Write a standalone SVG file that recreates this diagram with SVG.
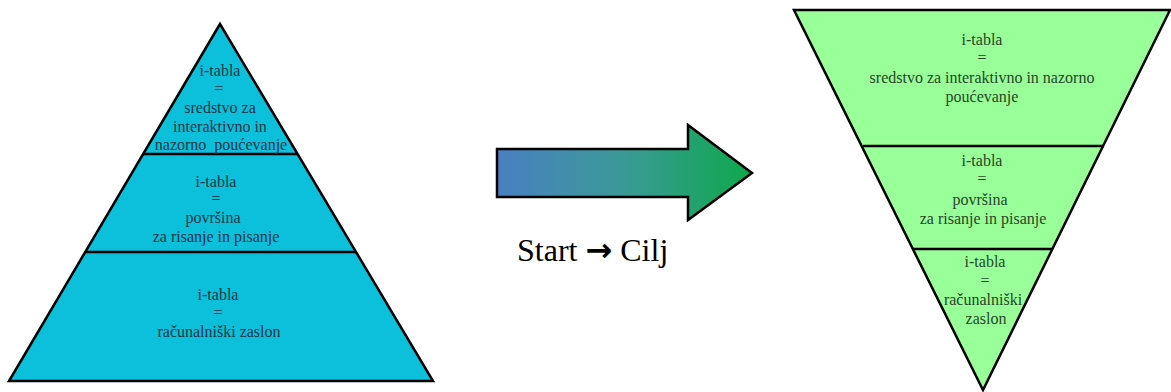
<svg xmlns="http://www.w3.org/2000/svg" width="1171" height="392" viewBox="0 0 1171 392">
<style>
.shape{stroke:#000;stroke-width:2.5;stroke-linejoin:miter}
.cyan{fill:#0cc0dc}
.green{fill:#99ff99}
.div{stroke:#000;stroke-width:2.5}
.t{font-family:"Liberation Serif","Times New Roman",serif;font-size:16px;text-anchor:middle}
.tc{fill:#1a3646}
.tg{fill:#264628}
.lbl{font-family:"Liberation Serif","Times New Roman",serif;font-size:32px;fill:#000}
.arr{font-family:"DejaVu Sans",sans-serif;font-weight:bold;font-size:32px}
</style>
<defs>
<linearGradient id="ag" x1="0" y1="0" x2="1" y2="0">
<stop offset="0" stop-color="#4a7fc2"/>
<stop offset="0.5" stop-color="#3a9a96"/>
<stop offset="1" stop-color="#0ea84c"/>
</linearGradient>
</defs>
<g id="pyramid">
<polygon class="shape cyan" points="220,24 9,381 433,381"/>
<line class="div" x1="143" y1="154" x2="297" y2="154"/>
<line class="div" x1="85" y1="252" x2="356" y2="252"/>
</g>
<g id="pyr-top">
<text class="t tc" x="220" y="76">i-tabla</text>
<text class="t tc" x="219" y="94">=</text>
<text class="t tc" x="220" y="113">sredstvo za</text>
<text class="t tc" x="220" y="132">interaktivno in</text>
<text class="t tc" x="221" y="150" xml:space="preserve">nazorno  poućevanje</text>
</g>
<g id="pyr-mid">
<text class="t tc" x="216" y="187">i-tabla</text>
<text class="t tc" x="216" y="204">=</text>
<text class="t tc" x="213" y="223">površina</text>
<text class="t tc" x="216" y="242">za risanje in pisanje</text>
</g>
<g id="pyr-bottom">
<text class="t tc" x="218" y="300">i-tabla</text>
<text class="t tc" x="218" y="318">=</text>
<text class="t tc" x="219" y="337">računalniški zaslon</text>
</g>
<g id="connectors">
<polygon class="shape" fill="url(#ag)" stroke-width="2" points="497,149 688,149 688,125 752,173 688,220 688,197 497,197"/>
<text class="lbl" x="517" y="261">Start <tspan class="arr">→</tspan> Cilj</text>
</g>
<g id="funnel">
<polygon class="shape green" points="794,10 1170,10 983,390"/>
<line class="div" x1="863" y1="146" x2="1104" y2="146"/>
<line class="div" x1="913" y1="249" x2="1053" y2="249"/>
</g>
<g id="fun-top">
<text class="t tg" x="982" y="45">i-tabla</text>
<text class="t tg" x="982" y="63">=</text>
<text class="t tg" x="982" y="83">sredstvo za interaktivno in nazorno</text>
<text class="t tg" x="982" y="102">poućevanje</text>
</g>
<g id="fun-mid">
<text class="t tg" x="982" y="166">i-tabla</text>
<text class="t tg" x="982" y="184">=</text>
<text class="t tg" x="980" y="205">površina</text>
<text class="t tg" x="983" y="224">za risanje in pisanje</text>
</g>
<g id="fun-bottom">
<text class="t tg" x="985" y="267">i-tabla</text>
<text class="t tg" x="985" y="286">=</text>
<text class="t tg" x="983" y="305">računalniški</text>
<text class="t tg" x="986" y="324">zaslon</text>
</g>
</svg>
